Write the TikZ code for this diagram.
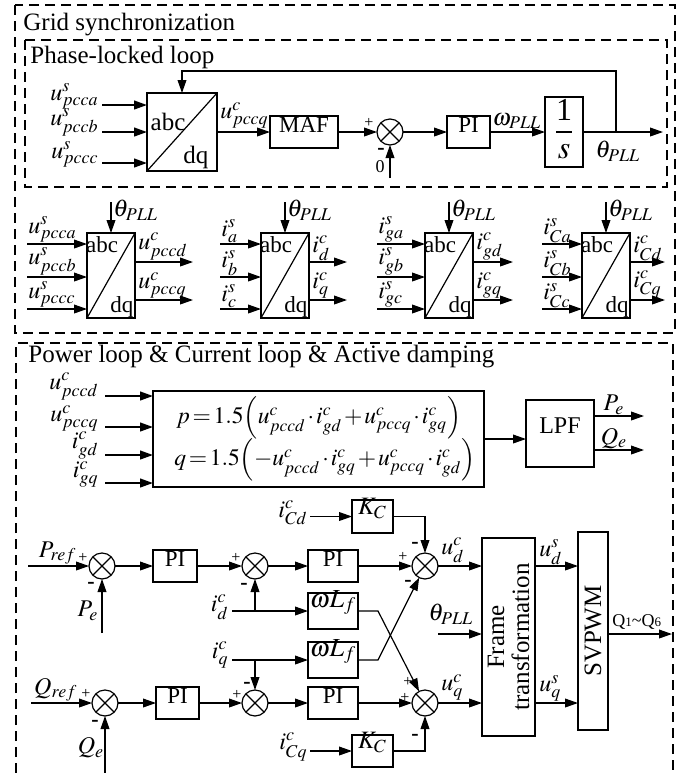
\documentclass[tikz,border=0pt]{standalone}
\usepackage{mathptmx}
\usepackage{fontspec}
\setmainfont{Liberation Serif}
\usetikzlibrary{arrows.meta,fit}
\newcommand\tightmath{\thickmuskip=2mu\relax\medmuskip=1.5mu\relax}
\newcommand\sumj[2]{%
  \node[sumc] (#1) at (#2) {};
  \draw[ln] (#1.north west) -- (#1.south east) (#1.north east) -- (#1.south west);}
\newcommand\abcdqblk[9]{%
  \node[blk, fit={(#2,233) ({#2+48},318)}] (#1) {};
  \draw[ln] (#1.south west) -- (#1.north east);
  \node[lb, font=\fontsize{11.5}{13}\selectfont] at ({#2+15},245) {abc};
  \node[lb, font=\fontsize{11.5}{13}\selectfont] at ({#2+35},307) {dq};
  \coordinate (#1th) at ({#2+24},202);
  \draw[arr] (#1th) -- (#1.north);
  \node[lb, anchor=west] at ({#2+26},210) {$\theta_{PLL}$};
  \coordinate (#1i1) at (#3,244);
  \coordinate (#1i2) at (#3,277);
  \coordinate (#1i3) at (#3,309);
  \draw[arr] (#1i1) -- (#1.west |- #1i1);
  \draw[arr] (#1i2) -- (#1.west |- #1i2);
  \draw[arr] (#1i3) -- (#1.west |- #1i3);
  \node[lb, anchor=south west] at ({#3+1},243) {$#5$};
  \node[lb, anchor=south west] at ({#3+1},276) {$#6$};
  \node[lb, anchor=south west] at ({#3+1},308) {$#7$};
  \coordinate (#1o1) at (#4,262);
  \coordinate (#1o2) at (#4,300);
  \draw[arr] (#1.east |- #1o1) -- (#1o1);
  \draw[arr] (#1.east |- #1o2) -- (#1o2);
  \node[lb, anchor=south west] at ({#2+51},261) {$#8$};
  \node[lb, anchor=south west] at ({#2+51},299) {$#9$};}
\begin{document}
\begin{tikzpicture}[x=0.5pt,y=-0.5pt,
  ln/.style={line width=0.6pt},
  dbox/.style={draw, dash pattern=on 5pt off 3pt, line width=0.6pt},
  blk/.style={draw, line width=0.6pt, inner sep=0pt, outer sep=0pt},
  arr/.style={line width=0.6pt, -{Triangle[length=6.5pt,width=4.4pt]}},
  tarr/.style={line width=0.9pt, -{Triangle[length=6.5pt,width=4.4pt]}},
  sumc/.style={circle, draw, line width=0.6pt, minimum size=13pt, inner sep=0pt, outer sep=0pt},
  lb/.style={inner sep=0pt, font=\fontsize{12}{14}\selectfont},
  sg/.style={inner sep=0pt, font=\fontsize{8}{9}\selectfont},
  sgm/.style={inner sep=0pt, font=\fontsize{11}{12}\selectfont\bfseries},
  tx/.style={inner sep=0pt, font=\fontsize{12.5}{15}\selectfont, anchor=base west},
  bxt/.style={font=\fontsize{11.5}{13}\selectfont},
  eqt/.style={inner sep=0pt, anchor=west, font=\fontsize{11.8}{14}\selectfont}]
\useasboundingbox (0,0) rectangle (693,773);

% ---------- section frames ----------
\draw[dbox] (15,5) rectangle (675,333);
\draw[dbox] (25,40) rectangle (667,187);
\draw[dbox] (16,773) -- (16,343) -- (673,343) -- (673,773);
\node[tx] (t1) at (23,30) {Grid synchronization};
\node[tx] (t2) at (30,63) {Phase-locked loop};
\node[tx] (t3) at (28,362) {Power loop \& Current loop \& Active damping};

% ---------- PLL ----------
\node[blk, fit={(147,93) (217,171)}] (P) {};
\draw[ln] (P.south west) -- (P.north east);
\node[lb, font=\fontsize{12.5}{14}\selectfont] at (168,122) {abc};
\node[lb, font=\fontsize{12.5}{14}\selectfont] at (196,157) {dq};
\foreach \y/\n in {105/a,132/b,163/c}{
  \coordinate (pin\n) at (102,\y);
  \draw[tarr] (pin\n) -- (P.west |- pin\n);
  \node[lb, anchor=south east] at (99,\y+5) {$u^s_{pcc\n}$};
}
\node[blk, bxt, fit={(270,116) (338,148)}] (maf) {MAF};
\draw[arr] (P.east) -- (maf.west);
\node[lb, anchor=south west] at (220,129) {$u^c_{pccq}$};
\sumj{s0}{390,132}
\draw[arr] (maf) -- (s0);
\node[sg] at (369,123) {+};
\node[sgm] at (381,151) {-};
\node[lb, font=\fontsize{9}{10}\selectfont] at (380,167) {0};
\coordinate (z0) at (390,178);
\draw[arr] (z0) -- (s0);
\node[blk, bxt, fit={(447,116) (490,148)}] (pi0) {PI};
\draw[arr] (s0) -- (pi0);
\node[blk, fit={(545,97) (583,167)}] (int) {};
\node[inner sep=0pt, font=\fontsize{16}{18}\selectfont] at (564,110) {1};
\draw[ln] (556,132) -- (572,132);
\node[inner sep=0pt, font=\fontsize{16}{18}\selectfont] at (564,152) {$s$};
\draw[arr] (pi0) -- (int);
\node[lb, anchor=south] at (517,129) {$\omega_{PLL}$};
\coordinate (thout) at (663,132);
\draw[arr] (int) -- (thout);
\coordinate (fb) at (616,132);
\coordinate (fbtop) at (182,71);
\draw[arr] (fb) |- (fbtop) -- (fbtop |- P.north);
\node[lb, anchor=north] at (618,141) {$\theta_{PLL}$};

% ---------- abc/dq row ----------
\abcdqblk{B1}{87}{27}{193}{u^s_{pcca}}{u^s_{pccb}}{u^s_{pccc}}{u^c_{pccd}}{u^c_{pccq}}
\abcdqblk{B2}{261}{220}{347}{i^s_a}{i^s_b}{i^s_c}{i^c_d}{i^c_q}
\abcdqblk{B3}{425}{377}{513}{i^s_{ga}}{i^s_{gb}}{i^s_{gc}}{i^c_{gd}}{i^c_{gq}}
\abcdqblk{B4}{582}{542}{665}{i^s_{Ca}}{i^s_{Cb}}{i^s_{Cc}}{i^c_{Cd}}{i^c_{Cq}}

% ---------- power calculation ----------
\node[blk, fit={(153,391) (484,487)}] (eq) {};
\foreach \y/\t in {396/u^c_{pccd},427/u^c_{pccq},455/i^c_{gd},483/i^c_{gq}}{
  \coordinate (ein\y) at (105,\y);
  \draw[tarr] (ein\y) -- (eq.west |- ein\y);
  \node[lb, anchor=south east] at (99,\y+5) {$\t$};
}
\node[eqt] at (176,418)
  {$\tightmath p=1.5\Bigl(u^c_{pccd}\cdot i^c_{gd}+u^c_{pccq}\cdot i^c_{gq}\Bigr)$};
\node[eqt] at (174,460)
  {$\tightmath q=1.5\Bigl(-u^c_{pccd}\cdot i^c_{gq}+u^c_{pccq}\cdot i^c_{gd}\Bigr)$};
\node[blk, font=\fontsize{12}{14}\selectfont, fit={(526,400) (594,467)}] (lpf) {LPF};
\draw[arr] (eq.east) -- (eq.east -| lpf.west);
\coordinate (peo) at (644,416);
\coordinate (qeo) at (644,450);
\draw[arr] (lpf.east |- peo) -- (peo);
\draw[arr] (lpf.east |- qeo) -- (qeo);
\node[lb, anchor=south] at (614,415) {$P_e$};
\node[lb, anchor=south] at (614,449) {$Q_e$};

% ---------- control loops ----------
\sumj{s1}{102,566}
\sumj{s2}{255,566}
\sumj{sD}{425,566}
\sumj{s4}{105,703}
\sumj{s3}{255,703}
\sumj{sQ}{425,703}
\node[blk, bxt, fit={(153,550) (197,582)}] (pi1) {PI};
\node[blk, bxt, fit={(308,550) (358,582)}] (pi2) {PI};
\node[blk, bxt, fit={(156,687) (199,719)}] (pi3) {PI};
\node[blk, bxt, fit={(308,687) (358,719)}] (pi4) {PI};
\node[blk, font=\fontsize{13}{15}\selectfont, fit={(308,593) (358,629)}] (wL1) {$\omega L_f$};
\node[blk, font=\fontsize{13}{15}\selectfont, fit={(308,642) (358,678)}] (wL2) {$\omega L_f$};
\node[blk, font=\fontsize{12.5}{15}\selectfont, fit={(352,500) (393,533)}] (kc1) {$K_C$};
\node[blk, font=\fontsize{12.5}{15}\selectfont, fit={(352,735) (393,767)}] (kc2) {$K_C$};
\node[blk, fit={(482,538) (535,736)}] (frame) {};
\node[rotate=90, align=center, inner sep=0pt, font=\fontsize{12.5}{12.5}\selectfont] at (frame.center) {Frame\\transformation};
\node[blk, fit={(578,532) (608,730)}] (svp) {};
\node[rotate=90, inner sep=0pt, font=\fontsize{12.5}{14}\selectfont] at (svp.center) {SVPWM};

% d axis
\coordinate (pref) at (28,566);
\draw[arr] (pref) -- (s1);
\node[lb, anchor=south east] at (77,565) {$P_{ref}$};
\node[sg] at (83,558) {+};
\node[sgm] at (91,585) {-};
\coordinate (pein) at (102,633);
\draw[arr] (pein) -- (s1);
\node[lb] at (88,611) {$P_e$};
\draw[arr] (s1) -- (pi1);
\draw[arr] (pi1) -- (s2);
\node[sg] at (236,558) {+};
\node[sgm] at (244,586) {-};
\draw[arr] (s2) -- (pi2);
\draw[arr] (pi2) -- (sD);
\node[sg] at (403,557) {+};
\coordinate (id) at (232,611);
\coordinate (idb) at (255,611);
\draw[arr] (id) -- (wL1);
\draw[arr] (idb) -- (s2);
\node[lb, anchor=east] at (229,607) {$i^c_d$};
\coordinate (icd) at (310,516.5);
\draw[arr] (icd) -- (kc1);
\node[lb, anchor=east] at (308,513) {$i^c_{Cd}$};
\coordinate (k1) at (425,516.5);
\draw[arr] (kc1) -- (k1) -- (sD);
\node[sgm] at (415,545) {-};
\node[sgm] at (408,583) {-};
\draw[arr] (sD) -- (frame.west |- sD);
\node[lb, anchor=south west] at (441,563) {$u^c_d$};

% q axis
\coordinate (qref) at (31,703);
\draw[arr] (qref) -- (s4);
\node[lb, anchor=south east] at (78,702) {$Q_{ref}$};
\node[sg] at (86,694) {+};
\node[sgm] at (95,723) {-};
\coordinate (qein) at (105,773);
\draw[arr] (qein) -- (s4);
\node[lb] at (91,748) {$Q_e$};
\draw[arr] (s4) -- (pi3);
\draw[arr] (pi3) -- (s3);
\node[sg] at (237,695) {+};
\node[sgm] at (247,685) {-};
\draw[arr] (s3) -- (pi4);
\draw[arr] (pi4) -- (sQ);
\node[sg] at (405,698) {+};
\node[sg] at (408,682) {+};
\coordinate (iq) at (232,660);
\coordinate (iqb) at (255,660);
\draw[arr] (iq) -- (wL2);
\draw[arr] (iqb) -- (s3);
\node[lb, anchor=east] at (229,655) {$i^c_q$};
\coordinate (icq) at (310,751);
\draw[arr] (icq) -- (kc2);
\node[lb, anchor=east] at (308,747) {$i^c_{Cq}$};
\coordinate (k2) at (425,751);
\draw[arr] (kc2) -- (k2) -- (sQ);
\node[sgm] at (415,737) {-};
\draw[arr] (sQ) -- (frame.west |- sQ);
\node[lb, anchor=south west] at (441,701) {$u^c_q$};

% cross coupling
\coordinate (x1) at (378,611);
\coordinate (x2) at (378,660);
\draw[arr] (wL1) -- (x1) -- (sQ);
\draw[arr] (wL2) -- (x2) -- (sD);

% frame transformation and SVPWM
\coordinate (thf) at (438,634);
\draw[tarr] (thf) -- (frame.west |- thf);
\node[lb] at (451,614) {$\theta_{PLL}$};
\draw[arr] (frame.east |- sD) -- (svp.west |- sD);
\draw[arr] (frame.east |- sQ) -- (svp.west |- sQ);
\node[lb, anchor=south west] at (539,565) {$u^s_d$};
\node[lb, anchor=south west] at (539,702) {$u^s_q$};
\coordinate (qo) at (672,634);
\draw[arr] (svp.east |- thf) -- (qo);
\node[inner sep=0pt, anchor=base west, font=\fontsize{9}{10}\selectfont] at (612,626)
  {Q{\fontsize{6.5}{7}\selectfont 1}\textasciitilde Q{\fontsize{6.5}{7}\selectfont 6}};
\end{tikzpicture}
\end{document}
